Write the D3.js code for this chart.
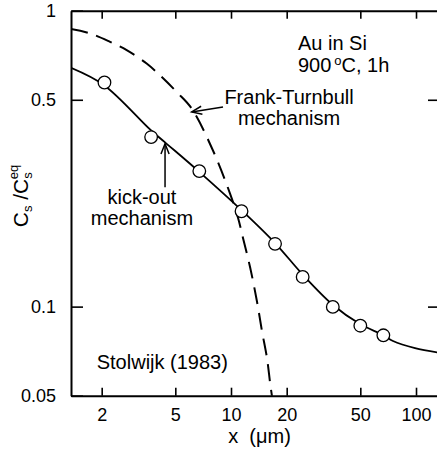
<!DOCTYPE html>
<html>
<head>
<meta charset="utf-8">
<script src="https://cdn.jsdelivr.net/npm/d3@7"></script>
<style>
  body { margin: 0; background: #fff; }
  text { font-family: "Liberation Sans", Arial, sans-serif; fill: #000; }
</style>
</head>
<body>
<div id="chart"></div>
<script>
// measured points (x in um, Cs/Cs_eq)
const pointsX = [2.07, 3.70, 6.74, 11.4, 17.3, 24.4, 35.5, 50.0, 66.6];
const pointsY = [0.572, 0.374, 0.287, 0.210, 0.163, 0.126, 0.0998, 0.0862, 0.080];

// kick-out fit (solid)
const kickX = [1.365, 2.06, 3.65, 4.40, 6.71, 11.47, 17.3, 24.5, 35.6, 49.8, 66.3, 75.1, 98.8, 135];
const kickY = [0.641, 0.560, 0.397, 0.359, 0.286, 0.211, 0.164, 0.128, 0.1013, 0.0873, 0.0802, 0.0765, 0.0724, 0.0698];

// Frank-Turnbull fit (dashed)
const ftX = [1.365, 1.73, 2.22, 2.73, 3.50, 4.13, 5.09, 6.13, 7.99, 9.88, 10.9, 11.6, 12.7, 13.8, 14.7, 15.65, 16.3, 16.8];
const ftY = [0.867, 0.838, 0.785, 0.736, 0.663, 0.605, 0.531, 0.467, 0.337, 0.241, 0.200, 0.171, 0.1353, 0.1045, 0.0827, 0.0670, 0.0547, 0.048];

const xTicks = [2, 5, 10, 20, 50, 100];
const yTicks = [1, 0.5, 0.1, 0.05];
const yTickLabels = ["1", "0.5", "0.1", "0.05"];

const W = 437, H = 459;
const margin = {top: 10.7, left: 71, right: -3, bottom: 63.3};
const width = W - margin.left - margin.right;
const height = H - margin.top - margin.bottom;

const svg = d3.select("#chart").append("svg")
    .attr("width", W).attr("height", H);

const g = svg.append("g")
    .attr("transform", "translate(" + margin.left + "," + margin.top + ")");

const x = d3.scaleLog().domain([1.365, 134.8]).range([0, width]);
const y = d3.scaleLog().domain([0.05, 1]).range([height, 0]);

g.append("clipPath").attr("id", "clip")
  .append("rect").attr("width", width).attr("height", height);

// axes (ticks inward)
const fs = "18px", fa = "20px";
g.append("g")
    .attr("transform", "translate(0," + height + ")")
    .call(d3.axisBottom(x).tickValues(xTicks).tickFormat(d3.format("d")).tickSizeInner(-8).tickSizeOuter(0).tickPadding(13))
    .call(a => a.select(".domain").attr("stroke-width", 2))
    .call(a => a.selectAll(".tick line").attr("stroke-width", 1.6))
    .selectAll("text").style("font-size", fs);

g.append("g")
    .call(d3.axisTop(x).tickValues(xTicks).tickFormat("").tickSizeInner(-8).tickSizeOuter(0))
    .call(a => a.select(".domain").attr("stroke-width", 2))
    .call(a => a.selectAll(".tick line").attr("stroke-width", 1.6));

g.append("g")
    .call(d3.axisLeft(y).tickValues(yTicks).tickFormat((d, i) => yTickLabels[i]).tickSizeInner(-12).tickSizeOuter(0).tickPadding(15))
    .call(a => a.select(".domain").attr("stroke-width", 2))
    .call(a => a.selectAll(".tick line").attr("stroke-width", 1.6))
    .selectAll("text").style("font-size", fs);

g.append("g")
    .attr("transform", "translate(" + width + ",0)")
    .call(d3.axisRight(y).tickValues(yTicks.slice(1, 3)).tickFormat("").tickSizeInner(-12).tickSizeOuter(0))
    .call(a => a.select(".domain").attr("stroke-width", 2))
    .call(a => a.selectAll(".tick line").attr("stroke-width", 1.6));

// curves
const line = d3.line()
    .x(d => x(d[0]))
    .y(d => y(d[1]))
    .curve(d3.curveCatmullRom);

g.append("path")
    .attr("d", line(d3.zip(kickX, kickY)))
    .attr("clip-path", "url(#clip)")
    .attr("fill", "none")
    .attr("stroke", "#000")
    .attr("stroke-width", 1.8);

g.append("path")
    .attr("d", line(d3.zip(ftX, ftY)))
    .attr("clip-path", "url(#clip)")
    .attr("fill", "none")
    .attr("stroke", "#000")
    .attr("stroke-dasharray", "17,9")
    .attr("stroke-width", 2);

// data points
g.selectAll(".pt")
    .data(d3.zip(pointsX, pointsY))
    .enter().append("circle")
    .attr("class", "pt")
    .attr("cx", d => x(d[0]))
    .attr("cy", d => y(d[1]))
    .attr("r", 6.3)
    .attr("fill", "#fff")
    .attr("stroke", "#000")
    .attr("stroke-width", 1.3);

// arrows (open V head)
function arrow(from, to) {
    const x1 = x(from[0]), y1 = y(from[1]), x2 = x(to[0]), y2 = y(to[1]);
    const ang = Math.atan2(y2 - y1, x2 - x1);
    const len = 11, spread = 0.38;
    g.append("line")
        .attr("x1", x1).attr("y1", y1).attr("x2", x2).attr("y2", y2)
        .attr("stroke", "#000").attr("stroke-width", 1.5);
    g.append("path")
        .attr("d", "M" + (x2 - len * Math.cos(ang - spread)) + "," + (y2 - len * Math.sin(ang - spread)) +
                   "L" + x2 + "," + y2 +
                   "L" + (x2 - len * Math.cos(ang + spread)) + "," + (y2 - len * Math.sin(ang + spread)))
        .attr("fill", "none").attr("stroke", "#000").attr("stroke-width", 1.5);
}
arrow([9.05, 0.473], [6.13, 0.455]);
arrow([4.40, 0.253], [4.40, 0.355]);

// annotation text
function label(xv, yv, txt, anchor) {
    return g.append("text")
        .attr("x", x(xv)).attr("y", y(yv))
        .attr("text-anchor", anchor || "start")
        .style("font-size", fa)
        .text(txt);
}
label(23.0, 0.736, "Au in Si");
const t = g.append("text")
    .attr("x", x(23.0)).attr("y", y(0.620))
    .style("font-size", fa);
t.append("tspan").text("900");
t.append("tspan").attr("dx", 3).attr("dy", -7).style("font-size", "13px").text("o");
t.append("tspan").attr("dy", 7).text("C, 1h");

label(20.6, 0.483, "Frank-Turnbull", "middle");
label(20.6, 0.410, "mechanism", "middle");
label(3.30, 0.223, "kick-out", "middle");
label(3.30, 0.188, "mechanism", "middle");
label(1.88, 0.0615, "Stolwijk (1983)");

// axis titles
svg.append("text")
    .attr("x", margin.left + width / 2 + 4)
    .attr("y", 443)
    .attr("text-anchor", "middle")
    .style("font-size", fa)
    .text("x\u00a0\u00a0(\u03bcm)");

const yt = svg.append("text")
    .attr("transform", "translate(28,196) rotate(-90)")
    .attr("text-anchor", "middle")
    .style("font-size", "21px");
yt.append("tspan").text("C");
yt.append("tspan").attr("dy", 4).style("font-size", "13px").text("s");
yt.append("tspan").attr("dy", -4).text(" /C");
yt.append("tspan").attr("dy", 4).style("font-size", "13px").text("s");
yt.append("tspan").attr("dx", -7).attr("dy", -14).style("font-size", "13px").text("eq");
</script>
</body>
</html>
